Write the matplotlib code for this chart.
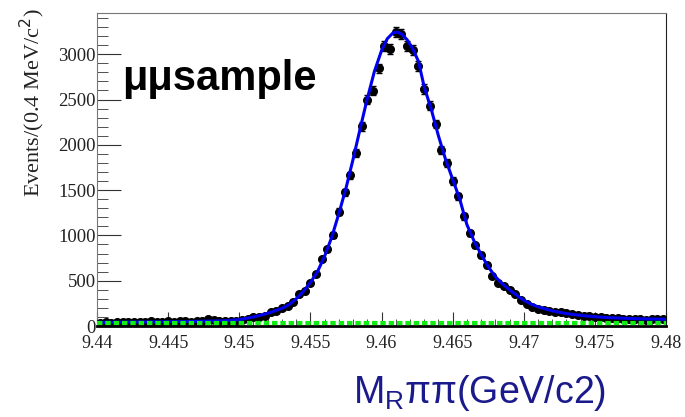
"""
Upsilon -> R pi pi mass peak, mumu sample, data points with fit
"""

import matplotlib.pyplot as plt
import numpy as np
from matplotlib.ticker import MultipleLocator

# binned data: 100 bins of 0.4 MeV from 9.44 to 9.48
bin_low = 9.44
bin_width = 0.0004
counts = [38, 42, 35, 45, 40, 48, 43, 40, 46, 50,
          44, 47, 52, 45, 50, 55, 48, 60, 58, 72,
          62, 58, 60, 55, 58, 70, 80, 96, 96, 114,
          151, 170, 199, 224, 270, 353, 390, 475, 574, 740,
          845, 1004, 1264, 1476, 1663, 1909, 2204, 2500, 2597, 2844,
          3090, 3055, 3245, 3223, 3094, 3045, 2873, 2616, 2430, 2230,
          1940, 1799, 1600, 1432, 1210, 1030, 890, 784, 670, 555,
          480, 440, 401, 353, 290, 245, 215, 190, 175, 165,
          155, 150, 140, 132, 120, 110, 105, 98, 96, 90,
          88, 85, 80, 78, 75, 72, 70, 72, 75, 78]

# fit curve
fit_x = [9.440, 9.446, 9.449, 9.450, 9.451, 9.452, 9.453, 9.4535, 9.454, 9.4545,
         9.455, 9.4555, 9.456, 9.4565, 9.457, 9.4575, 9.458, 9.4585, 9.459, 9.4595,
         9.460, 9.4604, 9.4608, 9.4611, 9.4614, 9.4618, 9.4622, 9.4626, 9.463, 9.4635,
         9.464, 9.4645, 9.465, 9.4655, 9.466, 9.4665, 9.467, 9.4675, 9.468, 9.4685,
         9.469, 9.4695, 9.470, 9.4705, 9.471, 9.472, 9.473, 9.474, 9.475, 9.476,
         9.478, 9.480]
fit_y = [40, 48, 58, 70, 100, 140, 195, 235, 300, 380,
         480, 600, 770, 980, 1240, 1520, 1840, 2180, 2510, 2810,
         3040, 3170, 3235, 3245, 3225, 3160, 3060, 2920, 2640, 2390,
         2100, 1840, 1620, 1400, 1120, 940, 790, 655, 545, 465,
         400, 340, 285, 243, 212, 167, 137, 117, 102, 92,
         80, 74]

# flat background
bkg_x = [9.44, 9.48]
bkg_y = [30, 30]

counts = np.array(counts, dtype=float)
centers = bin_low + bin_width * (np.arange(len(counts)) + 0.5)

fig = plt.figure(figsize=(6.85, 4.17), dpi=100)
ax = fig.add_axes([0.1416, 0.2182, 0.8307, 0.7506])

ax.errorbar(centers, counts, yerr=np.sqrt(counts), fmt='o', color='black',
            markersize=5.5, elinewidth=1, capsize=2, zorder=3)
ax.plot(fit_x, fit_y, color='#0000ee', linewidth=2.2, zorder=4)
ax.plot(bkg_x, bkg_y, color='#11ee11', linewidth=3, linestyle=(0, (1.3, 0.7)),
        solid_capstyle='butt', dash_capstyle='butt', zorder=5)

ax.set_xlim(9.44, 9.48)
ax.set_ylim(0, 3455)

ax.xaxis.set_minor_locator(MultipleLocator(0.001))
ax.yaxis.set_major_locator(MultipleLocator(500))
ax.yaxis.set_minor_locator(MultipleLocator(100))
ax.set_xticks([9.44, 9.445, 9.45, 9.455, 9.46, 9.465, 9.47, 9.475, 9.48])
ax.set_xticklabels(['9.44', '9.445', '9.45', '9.455', '9.46', '9.465', '9.47', '9.475', '9.48'])

ax.tick_params(axis='both', which='both', direction='in', top=False, right=False,
               colors='#333333')
ax.tick_params(axis='y', which='major', length=17, labelsize=13.5, pad=1)
ax.tick_params(axis='y', which='minor', length=8)
ax.tick_params(axis='x', which='major', length=10, labelsize=13, pad=6.5)
ax.tick_params(axis='x', which='minor', length=5)
for lab in ax.get_xticklabels() + ax.get_yticklabels():
    lab.set_family('Liberation Serif')
    lab.set_color('#222222')

for side in ['top', 'left']:
    ax.spines[side].set_color('#777777')
ax.spines['right'].set_color('#222222')
ax.spines['bottom'].set_color('black')
ax.spines['bottom'].set_linewidth(2)

ax.text(0.045, 0.79, '\u03bc\u03bcsample', transform=ax.transAxes, fontsize=30,
        fontweight='bold', family='Liberation Sans', color='black', va='center')

fig.text(0.048, 0.753, 'Events/(0.4 MeV/c$^2$)', rotation=90, fontsize=16,
         family='Liberation Serif', ha='center', va='center', color='#222222')

fig.text(0.70, 0.058, 'M$_\\mathregular{R}$\u03c0\u03c0(GeV/c2)', fontsize=27,
         family='Liberation Sans', color='#1a1a8c', ha='center', va='center')

plt.savefig('out.png', dpi=100)
